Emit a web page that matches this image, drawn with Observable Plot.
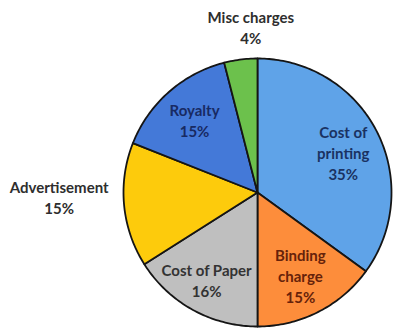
<!DOCTYPE html>
<html>
<head>
<meta charset="utf-8">
<script src="https://cdn.jsdelivr.net/npm/d3@7"></script>
<script src="https://cdn.jsdelivr.net/npm/@observablehq/plot@0.6"></script>
<style>
  html, body { margin: 0; padding: 0; background: #fff; }
  #chart svg { display: block; }
</style>
</head>
<body>
<div id="chart"></div>
<script>
// ---- data ----
const categories = ["Cost of printing", "Binding charge", "Cost of Paper", "Advertisement", "Royalty", "Misc charges"];
const shares = [35, 15, 16, 15, 15, 4];
const labelTexts = ["Cost of\nprinting\n35%", "Binding\ncharge\n15%", "Cost of Paper\n16%", "Advertisement\n15%", "Royalty\n15%", "Misc charges\n4%"];

// ---- styling / layout ----
const colors = ["#5fa3e8", "#fd8d3b", "#bfbfbf", "#fdcb0c", "#4479d8", "#6cc14c"];
const textColors = ["#1a3262", "#66220a", "#333333", "#2e2e2e", "#182a63", "#2e2e2e"];
// label anchor positions in unit-circle coordinates (layout only)
const labelPosX = [0.64, 0.32, -0.38, -1.48, -0.47, -0.05];
const labelPosY = [0.30, -0.62, -0.65, -0.03, 0.54, 1.24];

const W = 393, H = 329, cx = 257, cy = 192, R = 134;

// slice angles (clockwise from 12 o'clock)
const total = d3.sum(shares);
let acc = 0;
const slices = categories.map((c, i) => {
  const a0 = acc / total * 2 * Math.PI;
  acc += shares[i];
  const a1 = acc / total * 2 * Math.PI;
  return {c, i, a0, a1};
});

const polyPts = [];
for (const s of slices) {
  polyPts.push({c: s.c, x: 0, y: 0});
  const n = Math.max(2, Math.ceil((s.a1 - s.a0) / (Math.PI / 180)));
  for (let k = 0; k <= n; k++) {
    const a = s.a0 + (s.a1 - s.a0) * k / n;
    polyPts.push({c: s.c, x: Math.sin(a), y: Math.cos(a)});
  }
  polyPts.push({c: s.c, x: 0, y: 0});
}

const labels = slices.map(s => ({
  c: s.c, text: labelTexts[s.i], color: textColors[s.i],
  x: labelPosX[s.i], y: labelPosY[s.i]
}));

const chart = Plot.plot({
  width: W, height: H,
  marginLeft: cx - R, marginRight: W - (cx + R),
  marginTop: cy - R, marginBottom: H - (cy + R),
  x: {domain: [-1, 1], axis: null},
  y: {domain: [-1, 1], axis: null},
  color: {domain: categories, range: colors},
  style: {background: "#fff", fontFamily: "Lato, 'Open Sans', sans-serif"},
  marks: [
    Plot.line(polyPts, {x: "x", y: "y", z: "c", fill: "c", stroke: "#151515", strokeWidth: 1.8, strokeLinejoin: "round", curve: "linear"}),
    Plot.text(labels, {x: "x", y: "y", text: "text", fill: d => d.color, fontSize: 15, fontWeight: "bold", lineHeight: 1.4, textAnchor: "middle"})
  ]
});
document.getElementById("chart").appendChild(chart);
</script>
</body>
</html>
